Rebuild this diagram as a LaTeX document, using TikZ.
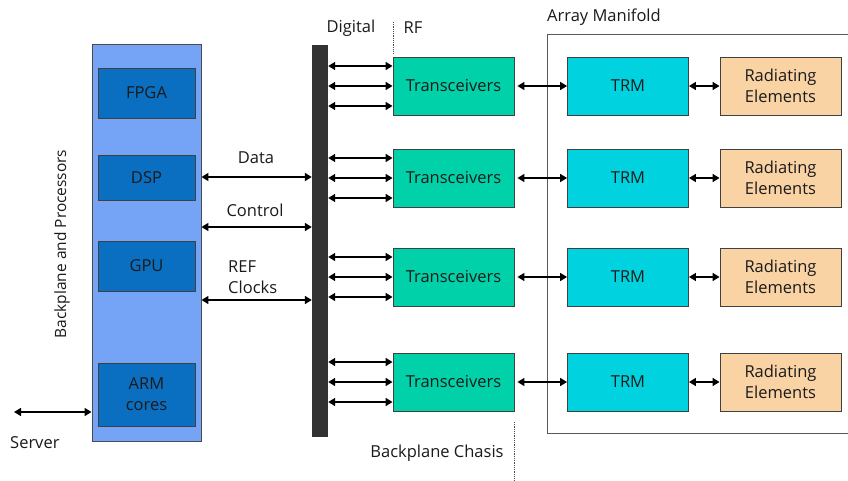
\documentclass[tikz,border=0pt]{standalone}
\usepackage{fontspec}
\setmainfont{Open Sans}
\usetikzlibrary{arrows.meta}
\definecolor{panelblue}{HTML}{75A3F5}
\definecolor{procblue}{HTML}{0A6FC0}
\definecolor{busgray}{HTML}{333333}
\definecolor{transgreen}{HTML}{00D1A8}
\definecolor{trmcyan}{HTML}{00D3DF}
\definecolor{radorange}{HTML}{FAD3A4}
\definecolor{txt}{HTML}{1A1A1A}
\begin{document}
\begin{tikzpicture}[x=1pt,y=-1pt,
  font=\fontsize{16.5}{21}\selectfont,
  box/.style={draw=black!75,line width=0.9pt,inner sep=0pt,align=center,text=txt},
  proc/.style={box,fill=procblue,minimum width=97pt},
  trans/.style={box,fill=transgreen,minimum width=121pt,minimum height=58pt},
  trm/.style={box,fill=trmcyan,minimum width=121pt,minimum height=58pt},
  rad/.style={box,fill=radorange,minimum width=121pt,minimum height=58pt},
  link/.style={line width=1.6pt,{Triangle[length=7pt,width=8pt]}-{Triangle[length=7pt,width=8pt]}},
  lbl/.style={text=txt,inner sep=0pt}
]
\useasboundingbox (0,0) rectangle (848,481);
\fill[white] (0,0) rectangle (848,481);

% left panel
\node[draw=black!70,line width=0.9pt,fill=panelblue,minimum width=109pt,minimum height=397pt,inner sep=0pt] (panel) at (146.5,242.5) {};
\node[proc,minimum height=50pt] (fpga) at (146.5,93) {FPGA};
\node[proc,minimum height=45pt] (dsp) at (146.5,177.5) {DSP};
\node[proc,minimum height=50pt] (gpu) at (146.5,266) {GPU};
\node[proc,minimum height=63pt] (arm) at (146.5,394.5) {ARM\\cores};
\node[lbl,rotate=90,font=\fontsize{15.5}{17}\selectfont] (bplabel) at (62,244) {Backplane and Processors};

% server
\coordinate (srv) at (14,412);
\draw[link] (srv) -- (panel.west |- srv);
\node[lbl,anchor=west] (server) at (10,443) {Server};

% bus bar
\node[fill=busgray,minimum width=16pt,minimum height=392pt,inner sep=0pt] (bus) at (320,241) {};

% panel to bus
\draw[link] (panel.east |- 0,177) -- (bus.west |- 0,177);
\draw[link] (panel.east |- 0,227) -- (bus.west |- 0,227);
\draw[link] (panel.east |- 0,300) -- (bus.west |- 0,300);
\node[lbl] (data) at (256,158) {Data};
\node[lbl] (control) at (255,210) {Control};
\node[lbl,anchor=west,align=left] (refclk) at (228,277) {REF\\Clocks};

% top labels
\node[lbl] (digital) at (351,28) {Digital};
\node[lbl] (rf) at (413,28) {RF};
\draw[densely dotted,line width=0.8pt,black!70] (393,22) -- (393,54);
\node[lbl,anchor=west] (arraylbl) at (547,17) {Array Manifold};
\node[lbl] (chasis) at (437,453) {Backplane Chasis};
\draw[densely dotted,line width=0.8pt,black!70] (514,422) -- (514,481);

% array manifold frame
\draw[black!65,line width=0.9pt] (848,34) -- (547,34) -- (547,433) -- (848,433);

% rows
\foreach \i/\y in {1/86,2/178,3/277,4/382}{
  \node[trans] (t\i) at (453.5,\y) {Transceivers};
  \node[trm] (m\i) at (628,\y) {TRM};
  \node[rad] (r\i) at (780.5,\y) {Radiating\\Elements};
  \draw[link] (t\i.east) ++(3,0) -- (m\i.west);
  \draw[link] (m\i.east) -- (r\i.west);
  \foreach \d in {-20,0,20}{
    \draw[link] (bus.east |- 0,\y+\d) -- (t\i.west |- 0,\y+\d);
  }
}
\end{tikzpicture}
\end{document}
